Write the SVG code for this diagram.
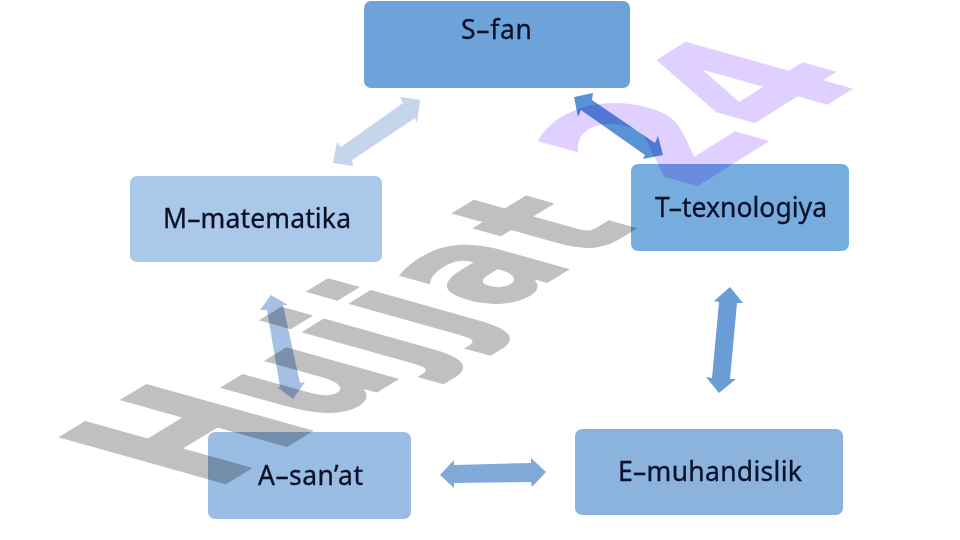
<svg xmlns="http://www.w3.org/2000/svg" width="960" height="540" viewBox="0 0 960 540">
<style>
.n{stroke:none}
.t{font-family:"Noto Sans","Open Sans",sans-serif;font-size:26.5px;fill:#0a1028;stroke:#0a1028;stroke-width:.3;text-anchor:middle}
.wm{font-family:"DejaVu Sans",sans-serif;font-weight:700;font-size:100px;mix-blend-mode:multiply}
</style>
<rect width="960" height="540" fill="#fff"/>
<g id="connectors">
<polygon fill="#c5d5ea" points="420,100 400,97 403,103 341,147 337,142 333,163 353,166 352,160 415,118 417,123"/>
<polygon fill="#5a93d3" points="574,97 593,93 592,100 655,143 658,136 663,155 643,159 645,155 581,110 578,117"/>
<polygon fill="#a5c0e3" points="271,295 288,305 283,305 300,383 305,382 293,399 277,387 280,387 267,310 260,310"/>
<polygon fill="#6a9dd6" points="730,287 743,303 737,303 730,379 736,379 719,393 706,377 712,378 719,302 714,301"/>
<polygon fill="#80a9d8" points="440,475 454,460 454,465 531,463 531,458 546,472 532,487 531,482 454,483 454,488"/>
</g>
<g id="node-s"><rect class="n" x="364" y="1" width="266" height="87" rx="7" fill="#6ea3d9"/><text class="t" x="496.5" y="39" textLength="71">S–fan</text></g>
<g id="node-m"><rect class="n" x="130" y="176" width="252" height="86" rx="7" fill="#aac9ea"/><text class="t" x="257" y="228" textLength="188">M–matematika</text></g>
<g id="node-t"><rect class="n" x="631" y="164" width="218" height="87" rx="7" fill="#77acdf"/><text class="t" x="741" y="217" textLength="172">T–texnologiya</text></g>
<g id="node-a"><rect class="n" x="208" y="432" width="203" height="87" rx="7" fill="#9abde3"/><text class="t" x="310.5" y="485" textLength="105">A–san’at</text></g>
<g id="node-e"><rect class="n" x="575" y="429" width="268" height="86" rx="7" fill="#8cb3de"/><text class="t" x="710" y="481" textLength="184">E–muhandislik</text></g>
<g id="watermark">
<text class="wm" fill="#c0c0c0" stroke="#c0c0c0" stroke-width="1.5" transform="matrix(1.317 -.8 2.25 .63 212.9 490.6)">H<tspan font-size="89" letter-spacing="5">u</tspan><tspan font-size="89" letter-spacing="5" dx="-2" dy="-3">jjat</tspan></text>
<text class="wm" fill="#e0d0ff" stroke="#e0d0ff" stroke-width="1.5" transform="matrix(1.317 -.827 2.25 .63 212.9 490.6)" x="361" y="-.8">24</text>
</g>
</svg>
